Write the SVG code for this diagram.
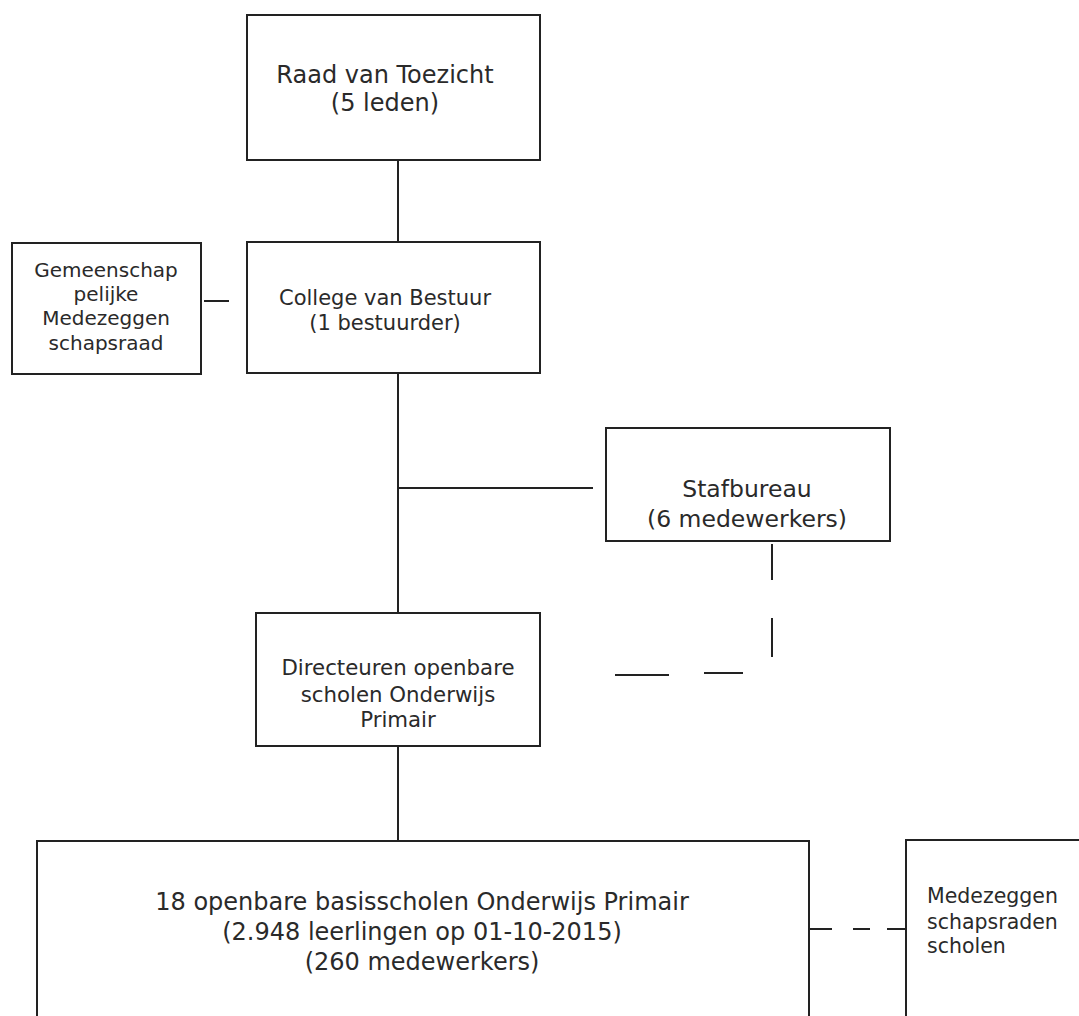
<svg xmlns="http://www.w3.org/2000/svg" width="1079" height="1016" viewBox="0 0 1079 1016">
<style>
.box{fill:#fff;stroke:#222;stroke-width:2}
.ln{stroke:#222;stroke-width:2;fill:none}
text{font-family:"DejaVu Sans",Verdana,sans-serif;fill:#2a2a2a;text-anchor:middle}
.l{text-anchor:start}
</style>
<rect width="1079" height="1016" fill="#fff"/>
<g id="connectors">
<line class="ln" x1="398" y1="160" x2="398" y2="242"/>
<line class="ln" x1="204" y1="301" x2="229" y2="301"/>
<line class="ln" x1="398" y1="373" x2="398" y2="613"/>
<line class="ln" x1="398" y1="488" x2="593" y2="488"/>
<line class="ln" x1="398" y1="746" x2="398" y2="841"/>
<line class="ln" x1="772" y1="544" x2="772" y2="580"/>
<line class="ln" x1="772" y1="618" x2="772" y2="657"/>
<line class="ln" x1="615" y1="675" x2="669" y2="675"/>
<line class="ln" x1="704" y1="673" x2="743" y2="673"/>
<line class="ln" x1="809" y1="929" x2="832" y2="929"/>
<line class="ln" x1="853" y1="929" x2="870" y2="929"/>
<line class="ln" x1="887" y1="929" x2="906" y2="929"/>
</g>
<g id="raad">
<rect class="box" x="247" y="15" width="293" height="145"/>
<text x="385" y="83" font-size="24">Raad van Toezicht</text>
<text x="385" y="111" font-size="24">(5 leden)</text>
</g>
<g id="gmr">
<rect class="box" x="12" y="243" width="189" height="131"/>
<text x="106" y="277" font-size="20">Gemeenschap</text>
<text x="106" y="301" font-size="20">pelijke</text>
<text x="106" y="325" font-size="20">Medezeggen</text>
<text x="106" y="350" font-size="20">schapsraad</text>
</g>
<g id="college">
<rect class="box" x="247" y="242" width="293" height="131"/>
<text x="385" y="305" font-size="21">College van Bestuur</text>
<text x="385" y="330" font-size="21">(1 bestuurder)</text>
</g>
<g id="stafbureau">
<rect class="box" x="606" y="428" width="284" height="113"/>
<text x="747" y="497" font-size="23.5">Stafbureau</text>
<text x="747" y="527" font-size="23.5">(6 medewerkers)</text>
</g>
<g id="directeuren">
<rect class="box" x="256" y="613" width="284" height="133"/>
<text x="398" y="675" font-size="21.3">Directeuren openbare</text>
<text x="398" y="702" font-size="21.3">scholen Onderwijs</text>
<text x="398" y="727" font-size="21.3">Primair</text>
</g>
<g id="scholen">
<rect class="box" x="37" y="841" width="772" height="200"/>
<text x="422" y="910" font-size="24">18 openbare basisscholen Onderwijs Primair</text>
<text x="422" y="940" font-size="24">(2.948 leerlingen op 01-10-2015)</text>
<text x="422" y="970" font-size="24">(260 medewerkers)</text>
</g>
<g id="mr">
<rect class="box" x="906" y="840" width="200" height="200"/>
<text class="l" x="927" y="903" font-size="20.5">Medezeggen</text>
<text class="l" x="927" y="929" font-size="20.5">schapsraden</text>
<text class="l" x="927" y="953" font-size="20.5">scholen</text>
</g>
</svg>
